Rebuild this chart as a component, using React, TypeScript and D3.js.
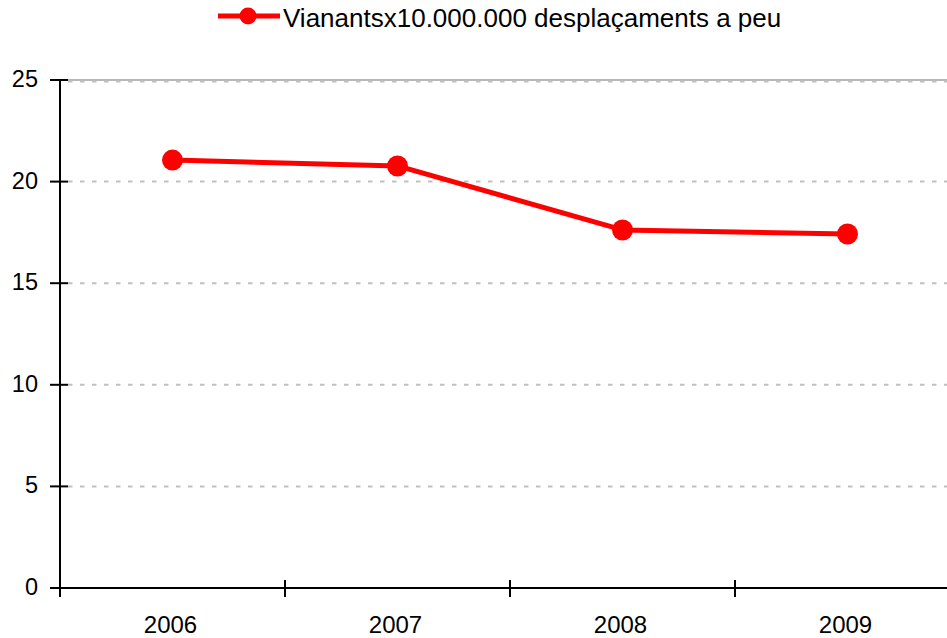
import React, { useEffect, useRef } from 'react'
import * as d3 from 'd3'

const years = ['2006', '2007', '2008', '2009']
const walkers = [21.06, 20.77, 17.62, 17.42]
const yTicks = [0, 5, 10, 15, 20, 25]
const seriesName = 'Vianantsx10.000.000 desplaçaments a peu'

const W = 947
const H = 638

export default function App() {
  const ref = useRef<SVGSVGElement>(null)

  useEffect(() => {
    const svg = d3.select(ref.current)
    svg.selectAll('*').remove()

    const left = 60
    const top = 80
    const bottom = 588
    const x = d3.scaleBand().domain(years).range([left, 960])
    const y = d3.scaleLinear().domain([0, 25]).range([bottom, top])
    const font = '"Liberation Sans", Arial, sans-serif'

    // grid
    svg.append('line')
      .attr('x1', left).attr('x2', W).attr('y1', y(25)).attr('y2', y(25))
      .attr('stroke', '#a0a0a0').attr('stroke-width', 1.5)
    svg.selectAll('.grid')
      .data(yTicks.filter(d => d > 0))
      .enter()
      .append('line')
      .attr('x1', left + 8).attr('x2', W)
      .attr('y1', d => y(d) + (d === 25 ? 1.5 : 0))
      .attr('y2', d => y(d) + (d === 25 ? 1.5 : 0))
      .attr('stroke', '#c0c0c0').attr('stroke-width', 2)
      .attr('stroke-dasharray', '4.5,7.5')

    // y axis
    svg.append('line')
      .attr('x1', left).attr('x2', left).attr('y1', top).attr('y2', bottom + 9)
      .attr('stroke', '#000').attr('stroke-width', 2)
    svg.selectAll('.ytick')
      .data(yTicks)
      .enter()
      .append('line')
      .attr('x1', left - 10).attr('x2', left + 8)
      .attr('y1', d => y(d)).attr('y2', d => y(d))
      .attr('stroke', '#000').attr('stroke-width', 2)
    svg.selectAll('.ylab')
      .data(yTicks)
      .enter()
      .append('text')
      .attr('x', 38).attr('y', d => y(d) + 7)
      .attr('text-anchor', 'end')
      .style('font-family', font).style('font-size', '23.5px')
      .text(d => d)

    // x axis
    svg.append('line')
      .attr('x1', left - 10).attr('x2', W).attr('y1', bottom).attr('y2', bottom)
      .attr('stroke', '#000').attr('stroke-width', 2)
    const edges = years.map(d => x(d)!).concat([x(years[3])! + x.bandwidth()])
    svg.selectAll('.xtick')
      .data(edges)
      .enter()
      .append('line')
      .attr('x1', d => d).attr('x2', d => d)
      .attr('y1', bottom - 8).attr('y2', bottom + 9)
      .attr('stroke', '#000').attr('stroke-width', 2)
    svg.selectAll('.xlab')
      .data(years)
      .enter()
      .append('text')
      .attr('x', d => x(d)! + x.bandwidth() / 2 - 2).attr('y', 633)
      .attr('text-anchor', 'middle')
      .style('font-family', font).style('font-size', '24px')
      .text(d => d)

    // series
    const cx = (i: number) => x(years[i])! + x.bandwidth() / 2
    const line = d3.line<number>().x((d, i) => cx(i)).y(d => y(d))
    svg.append('path')
      .attr('d', line(walkers))
      .attr('fill', 'none').attr('stroke', '#ff0000').attr('stroke-width', 5)
      .attr('stroke-linejoin', 'round')
    svg.selectAll('.pt')
      .data(walkers)
      .enter()
      .append('circle')
      .attr('cx', (d, i) => cx(i)).attr('cy', d => y(d)).attr('r', 10.5)
      .attr('fill', '#ff0000')

    // legend
    svg.append('line')
      .attr('x1', 218).attr('x2', 280).attr('y1', 16).attr('y2', 16)
      .attr('stroke', '#ff0000').attr('stroke-width', 5)
    svg.append('circle').attr('cx', 248).attr('cy', 16).attr('r', 8.5).attr('fill', '#ff0000')
    svg.append('text')
      .attr('x', 283).attr('y', 27)
      .style('font-family', font).style('font-size', '26px')
      .text(seriesName)
  }, [])

  return <svg ref={ref} width={W} height={H} style={{ position: 'absolute', left: 0, top: 0 }}></svg>
}
